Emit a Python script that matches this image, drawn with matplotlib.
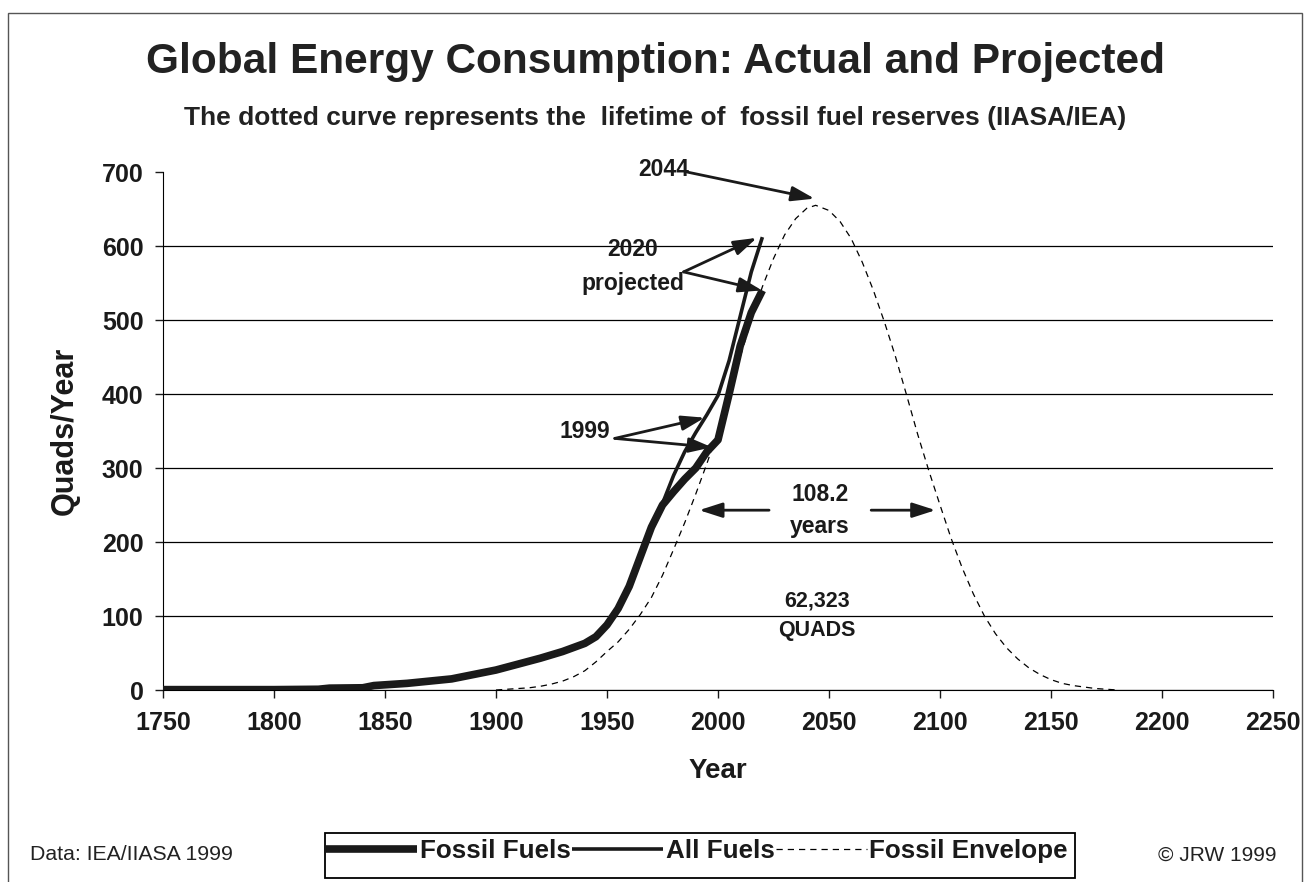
import matplotlib.pyplot as plt
from matplotlib.patches import Rectangle

plt.rcParams["font.family"] = ["Liberation Sans", "DejaVu Sans"]

# fossil fuels, actual to 1999 then projected to 2020
fossil_years = [1750, 1800, 1820, 1825, 1840, 1845, 1850, 1860, 1870, 1880,
                1890, 1900, 1910, 1920, 1930, 1940, 1945, 1950, 1955, 1960,
                1965, 1970, 1975, 1980, 1985, 1990, 1995, 2000, 2005, 2010,
                2015, 2020]
fossil_vals = [0.5, 0.5, 1, 2.5, 3, 6, 7, 9, 12, 15,
               21, 27, 35, 43, 52, 63, 72, 88, 110, 140,
               180, 220, 250, 268, 285, 300, 322, 338, 400, 465,
               510, 540]

# all fuels
all_years = [1750, 1800, 1820, 1825, 1840, 1845, 1850, 1860, 1870, 1880,
             1890, 1900, 1910, 1920, 1930, 1940, 1945, 1950, 1955, 1960,
             1965, 1970, 1975, 1980, 1985, 1990, 1995, 2000, 2005, 2010,
             2015, 2020]
all_vals = [0.5, 0.5, 1, 2.5, 3, 6, 7, 9, 12, 15,
            21, 27, 35, 43, 52, 63, 72, 88, 110, 140,
            180, 222, 252, 290, 322, 348, 372, 398, 445, 505,
            565, 612]

# fossil envelope (IIASA/IEA reserve lifetime curve)
env_years = [1900, 1905, 1910, 1915, 1920, 1925, 1930, 1935, 1940, 1945,
             1950, 1955, 1960, 1965, 1970, 1975, 1980, 1985, 1990, 1995,
             2000, 2005, 2010, 2015, 2020, 2025, 2030, 2035, 2040, 2044,
             2050, 2055, 2060, 2065, 2070, 2075, 2080, 2085, 2090, 2095,
             2100, 2105, 2110, 2115, 2120, 2125, 2130, 2135, 2140, 2145,
             2150, 2155, 2160, 2165, 2170, 2175, 2180]
env_vals = [0, 1, 2, 3, 5, 8, 12, 18, 26, 38,
            52, 65, 82, 102, 125, 155, 190, 226, 265, 306,
            350, 400, 450, 500, 545, 583, 615, 637, 651, 655,
            648, 633, 610, 578, 540, 497, 450, 398, 345, 296,
            250, 205, 165, 130, 100, 76, 57, 42, 30, 21,
            14, 9, 6, 4, 2, 1, 0]

x_ticks = [1750, 1800, 1850, 1900, 1950, 2000, 2050, 2100, 2150, 2200, 2250]
y_ticks = [0, 100, 200, 300, 400, 500, 600, 700]

INK = "#1a1a1a"

fig = plt.figure(figsize=(13.12, 8.82), dpi=100)
ax = fig.add_axes([163 / 1312, 1 - 690 / 882, 1110 / 1312, 518 / 882])

env_line, = ax.plot(env_years, env_vals, color="black", lw=0.9,
                    ls=(0, (5, 4)), label="Fossil Envelope", zorder=3)
all_line, = ax.plot(all_years, all_vals, color=INK, lw=2.6, label="All Fuels",
                    zorder=4, solid_capstyle="butt")
fos_line, = ax.plot(fossil_years, fossil_vals, color=INK, lw=5.5,
                    label="Fossil Fuels", zorder=5, solid_capstyle="butt")

ax.set_xlim(1750, 2250)
ax.set_ylim(0, 700)
ax.set_xticks(x_ticks)
ax.set_yticks(y_ticks)
ax.tick_params(axis="both", labelsize=18, width=1, length=6, direction="out",
               colors=INK)
ax.tick_params(axis="x", pad=9)
ax.tick_params(axis="y", pad=8)
for lab in ax.get_xticklabels() + ax.get_yticklabels():
    lab.set_fontweight("bold")
ax.spines["top"].set_visible(False)
ax.spines["right"].set_visible(False)
ax.yaxis.grid(True, color="black", lw=0.9)
ax.set_axisbelow(True)
ax.yaxis.get_gridlines()[-1].set_visible(False)

ax.set_xlabel("Year", fontsize=20, fontweight="bold", labelpad=17, color=INK)
ax.set_ylabel("Quads/Year", fontsize=22, fontweight="bold", labelpad=16,
              color=INK)

fig.text(0.4995, 1 - 62 / 882, "Global Energy Consumption: Actual and Projected",
         ha="center", va="center", fontsize=30.5, fontweight="bold", color="#222222")
fig.text(0.4992, 1 - 118 / 882,
         "The dotted curve represents the  lifetime of  fossil fuel reserves (IIASA/IEA)",
         ha="center", va="center", fontsize=19, fontweight="bold", color="#222222")

arrow = dict(arrowstyle="-|>,head_length=1.4,head_width=0.45", color=INK,
             lw=2.0, shrinkA=0, shrinkB=0)
txt = dict(fontsize=16.5, fontweight="bold", ha="center", va="center",
           color=INK)

ax.text(1975.5, 703, "2044", **txt)
ax.annotate("", xy=(2043.5, 664), xytext=(1986, 700), arrowprops=arrow)

ax.text(1961.5, 572, "2020\nprojected", linespacing=1.6, **txt)
for tip in [(2017.5, 611), (2019.8, 540)]:
    ax.annotate("", xy=tip, xytext=(1984.5, 565), arrowprops=arrow)

ax.text(1940, 349, "1999", **txt)
for tip in [(1994, 368), (1997.3, 328)]:
    ax.annotate("", xy=tip, xytext=(1953.5, 340), arrowprops=arrow)

ax.text(2046, 243, "108.2\nyears", linespacing=1.5, **txt)
ax.annotate("", xy=(1991.5, 243), xytext=(2023, 243), arrowprops=arrow)
ax.annotate("", xy=(2098, 243), xytext=(2069, 243), arrowprops=arrow)

ax.text(2044.5, 100, "62,323\nQUADS", linespacing=1.5,
        **{**txt, "fontsize": 15.5})

leg = fig.legend(handles=[fos_line, all_line, env_line], loc="center",
                 bbox_to_anchor=(697 / 1312, 1 - 851 / 882), ncol=3,
                 frameon=False, fontsize=18.7, handlelength=3.5,
                 handletextpad=0.1, columnspacing=0.05, borderaxespad=0)
for t in leg.get_texts():
    t.set_fontweight("bold")
    t.set_color(INK)
fig.add_artist(Rectangle((325 / 1312, 1 - 878 / 882), 750 / 1312, 45 / 882,
                         transform=fig.transFigure, fill=False,
                         edgecolor="black", lw=1.3))

fig.text(30 / 1312, 1 - 855 / 882, "Data: IEA/IIASA 1999", ha="left",
         va="center", fontsize=15.3, color="#222222")
fig.text(1277 / 1312, 1 - 855 / 882, "\u00a9 JRW 1999", ha="right",
         va="center", fontsize=15, color="#222222")

fig.add_artist(Rectangle((8 / 1312, -0.01), (1302 - 8) / 1312, 1 - 13 / 882 + 0.01,
                         transform=fig.transFigure, fill=False,
                         edgecolor="#555555", lw=1.0))

fig.savefig("out.png", dpi=100)
